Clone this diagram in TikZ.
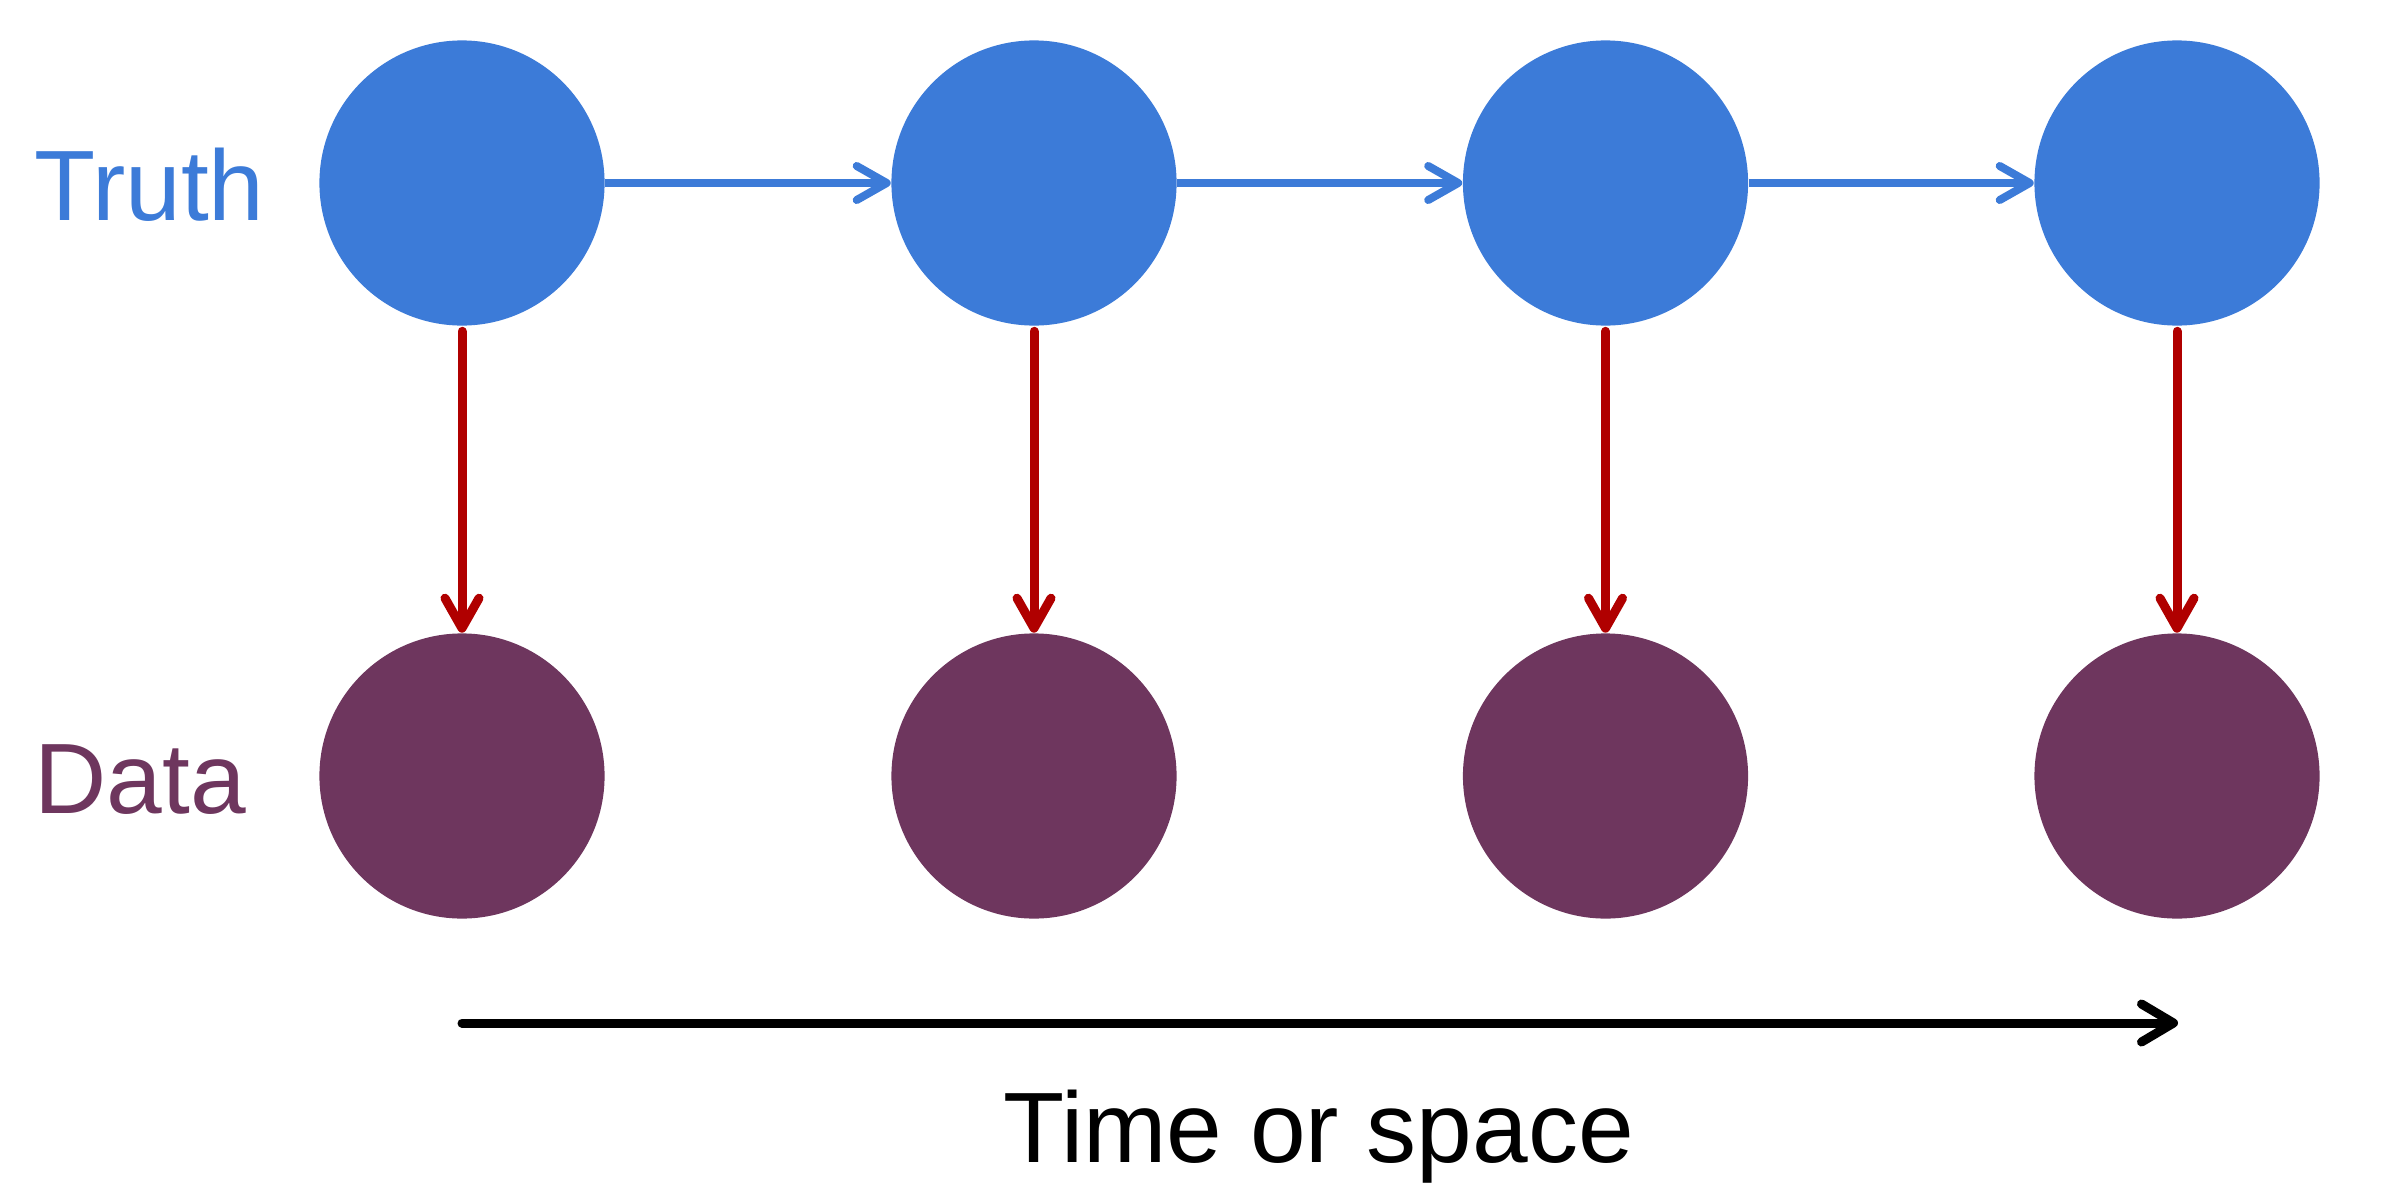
\documentclass[tikz,border=0pt]{standalone}
\usepackage{fontspec}
\setmainfont{Liberation Sans}
\usetikzlibrary{arrows.meta}
\definecolor{truthblue}{RGB}{60,123,216}
\definecolor{datapurple}{RGB}{110,54,94}
\definecolor{obsred}{RGB}{176,0,0}
\begin{document}
\begin{tikzpicture}[x=0.01cm,y=-0.01cm,
  truthnode/.style={circle,fill=truthblue,minimum size=2.85cm,inner sep=0pt},
  datanode/.style={circle,fill=datapurple,minimum size=2.85cm,inner sep=0pt},
  lbl/.style={inner sep=0pt,anchor=base west,font=\fontsize{28.45}{34}\selectfont},
  tip/.style={-{Straight Barb[length=0.30cm,width=0.34cm,round]}},
  evol/.style={tip,draw=truthblue,line width=0.08cm},
  obs/.style={tip,draw=obsred,line width=0.09cm,line cap=round,shorten <=0.05cm},
  axis/.style={-{Straight Barb[length=0.32cm,width=0.38cm,round]},draw=black,line width=0.09cm,line cap=round}]
\useasboundingbox (0,0) rectangle (2400,1200);
\node[truthnode] (t1) at (462,183) {};
\node[truthnode] (t2) at (1034,183) {};
\node[truthnode] (t3) at (1605.5,183) {};
\node[truthnode] (t4) at (2177,183) {};
\node[datanode] (d1) at (462,776) {};
\node[datanode] (d2) at (1034,776) {};
\node[datanode] (d3) at (1605.5,776) {};
\node[datanode] (d4) at (2177,776) {};
\node[lbl,text=truthblue] (truth) at (34,220) {Truth};
\node[lbl,text=datapurple] (data) at (34,813) {Data};
\node[lbl,text=black] (time) at (1003,1162) {Time or space};
\draw[evol] (t1) -- (t2);
\draw[evol] (t2) -- (t3);
\draw[evol] (t3) -- (t4);
\draw[obs] (t1) -- (d1);
\draw[obs] (t2) -- (d2);
\draw[obs] (t3) -- (d3);
\draw[obs] (t4) -- (d4);
\coordinate (a0) at (462,1023);
\coordinate (a1) at (2178,1023);
\draw[axis] (a0) -- (a1);
\end{tikzpicture}
\end{document}
